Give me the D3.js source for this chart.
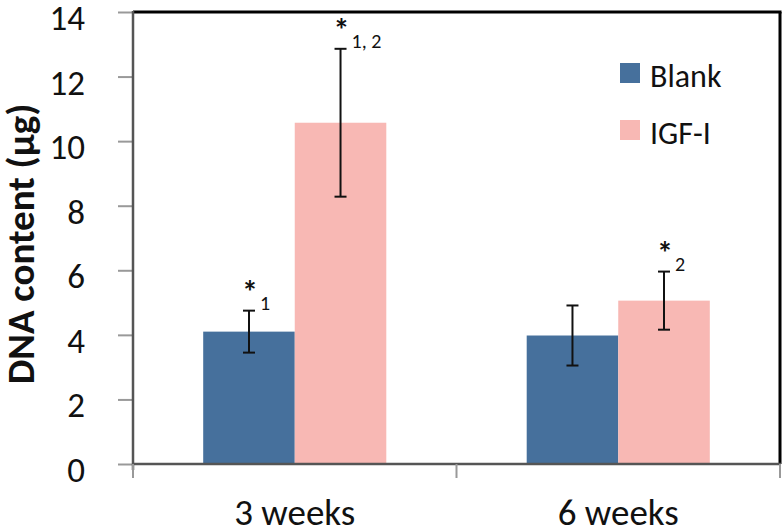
<!DOCTYPE html>
<html>
<head>
<meta charset="utf-8">
<script src="https://cdn.jsdelivr.net/npm/d3@7"></script>
<style>
  html, body { margin: 0; padding: 0; background: #fff; }
  svg { display: block; font-family: Carlito, Lato, "Open Sans", sans-serif; }
</style>
</head>
<body>
<svg id="chart" width="784" height="531"></svg>
<script>
// ---- data ----
const categories = ["3 weeks", "6 weeks"];
const seriesNames = ["Blank", "IGF-I"];
const blankMean = [4.1, 3.98];
const blankErr = [0.65, 0.93];
const igfMean = [10.57, 5.06];
const igfErr = [2.29, 0.9];
const blankSig = ["1", ""];
const igfSig = ["1, 2", "2"];
const yTicks = [0, 2, 4, 6, 8, 10, 12, 14];
const colors = ["#46709c", "#f8b8b4"];

(function () {
const pLeft = 133, pRight = 780, pTop = 12, pBottom = 464;

const svg = d3.select("#chart");

const y = d3.scaleLinear().domain([0, 14]).range([pBottom, pTop]);
const x0 = d3.scaleBand().domain(categories).range([pLeft, pRight])
  .paddingInner(0.434).paddingOuter(0.217);
const x1 = d3.scaleBand().domain(seriesNames).range([0, x0.bandwidth()]);

const rows = [];
categories.forEach((c, i) => {
  rows.push({cat: c, s: seriesNames[0], mean: blankMean[i], err: blankErr[i], sig: blankSig[i], color: colors[0]});
  rows.push({cat: c, s: seriesNames[1], mean: igfMean[i], err: igfErr[i], sig: igfSig[i], color: colors[1]});
});

// bars
svg.append("g").selectAll("rect").data(rows).join("rect")
  .attr("x", d => x0(d.cat) + x1(d.s))
  .attr("y", d => y(d.mean))
  .attr("width", x1.bandwidth())
  .attr("height", d => y(0) - y(d.mean))
  .attr("fill", d => d.color);

// error bars
const eb = svg.append("g").attr("stroke", "#111").attr("stroke-width", 2);
rows.forEach(d => {
  const cx = x0(d.cat) + x1(d.s) + x1.bandwidth() / 2;
  const y1 = y(d.mean + d.err), y2 = y(d.mean - d.err);
  eb.append("line").attr("x1", cx).attr("x2", cx).attr("y1", y1).attr("y2", y2);
  eb.append("line").attr("x1", cx - 6).attr("x2", cx + 6).attr("y1", y1).attr("y2", y1);
  eb.append("line").attr("x1", cx - 6).attr("x2", cx + 6).attr("y1", y2).attr("y2", y2);
  if (d.sig) {
    svg.append("text").attr("x", cx + 1).attr("y", y1 - 25 + 17)
      .attr("text-anchor", "middle").attr("font-size", 32).attr("font-weight", "bold")
      .attr("fill", "#111").text("*");
    svg.append("text").attr("x", cx + 11).attr("y", y1 - 8 + 7)
      .attr("font-size", 20).attr("fill", "#111").text(d.sig);
  }
});

// frame: top & right black
svg.append("line").attr("x1", pLeft).attr("x2", pRight + 1.5).attr("y1", pTop).attr("y2", pTop)
  .attr("stroke", "#000").attr("stroke-width", 3);
svg.append("line").attr("x1", pRight).attr("x2", pRight).attr("y1", pTop).attr("y2", pBottom)
  .attr("stroke", "#000").attr("stroke-width", 3);

// y axis
const yAxis = d3.axisLeft(y).tickValues(yTicks).tickSize(15).tickPadding(33).tickFormat(d3.format("d"));
const gy = svg.append("g").attr("transform", `translate(${pLeft},0)`).call(yAxis);
gy.select(".domain").remove();
gy.selectAll(".tick line").attr("stroke", "#999").attr("stroke-width", 2);
gy.selectAll(".tick text").attr("font-size", 35).attr("fill", "#111").attr("dy", "0.5em")
  .attr("font-family", "Carlito, Lato, sans-serif");
svg.append("line").attr("x1", pLeft).attr("x2", pLeft).attr("y1", pTop - 1).attr("y2", pBottom + 6)
  .attr("stroke", "#555").attr("stroke-width", 2.5);

// x axis
const xAxis = d3.axisBottom(x0).tickSize(0).tickPadding(35);
const gx = svg.append("g").attr("transform", `translate(0,${pBottom})`).call(xAxis);
gx.select(".domain").remove();
gx.selectAll(".tick text").attr("font-size", 37).attr("fill", "#111")
  .attr("font-family", "Carlito, Lato, sans-serif");
svg.append("line").attr("x1", pLeft).attr("x2", pRight + 1).attr("y1", pBottom).attr("y2", pBottom)
  .attr("stroke", "#555").attr("stroke-width", 2.5);
const boundaries = [pLeft, (x0(categories[0]) + x0.bandwidth() + x0(categories[1])) / 2, pRight];
svg.append("g").selectAll("line").data(boundaries).join("line")
  .attr("x1", d => d).attr("x2", d => d).attr("y1", pBottom).attr("y2", pBottom + 14)
  .attr("stroke", "#999").attr("stroke-width", 2);

// y title
svg.append("text")
  .attr("transform", `translate(34,${(98 + 390) / 2}) rotate(-90)`)
  .attr("text-anchor", "middle").attr("font-size", 39).attr("font-weight", "bold")
  .attr("fill", "#111").text("DNA content (µg)");

// legend
const lg = svg.append("g");
seriesNames.forEach((s, i) => {
  lg.append("rect").attr("x", 620).attr("y", 63 + i * 57).attr("width", 20).attr("height", 20)
    .attr("fill", colors[i]);
  lg.append("text").attr("x", 650).attr("y", 87 + i * 57).attr("font-size", 32)
    .attr("fill", "#111").text(s);
});
})();
</script>
</body>
</html>
